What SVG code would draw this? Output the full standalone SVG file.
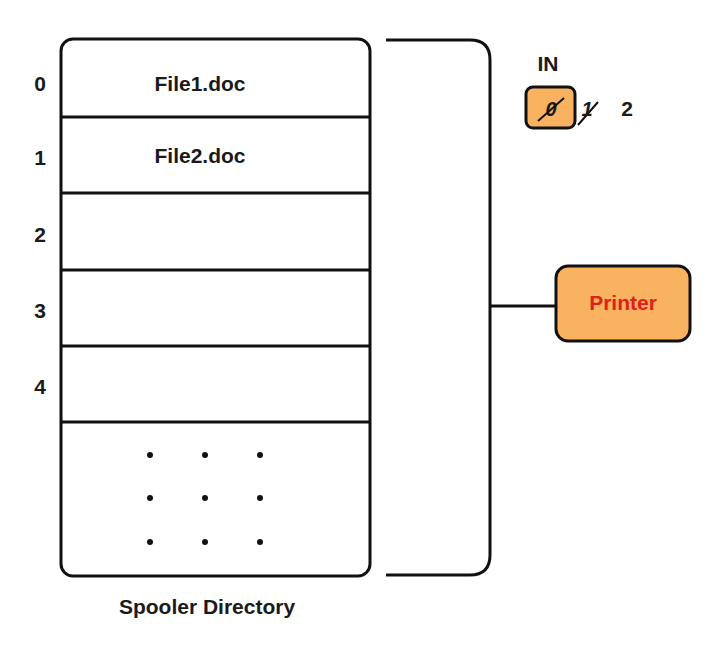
<svg xmlns="http://www.w3.org/2000/svg" width="720" height="653" viewBox="0 0 720 653">
<style>
text{font-family:"Liberation Sans",Arial,sans-serif;font-weight:bold;fill:#1a1a1a}
.l{stroke:#111;stroke-width:3;fill:none}
.o{fill:#f9b25f;stroke:#111;stroke-width:3}
</style>
<rect width="720" height="653" fill="#fff"/>
<g id="spooler">
<rect class="l" x="61" y="39" width="309" height="537" rx="12"/>
<path class="l" d="M61 117H370M61 193H370M61 270H370M61 346H370M61 422H370"/>
<text x="200" y="91" font-size="21" text-anchor="middle">File1.doc</text>
<text x="200" y="163" font-size="21" text-anchor="middle">File2.doc</text>
<g font-size="21"><text x="40" y="91" text-anchor="middle">0</text><text x="40" y="165" text-anchor="middle">1</text><text x="40" y="242" text-anchor="middle">2</text><text x="40" y="318" text-anchor="middle">3</text><text x="40" y="394" text-anchor="middle">4</text></g>
<g fill="#111"><circle cx="150" cy="455" r="3"/><circle cx="205" cy="455" r="3"/><circle cx="260" cy="455" r="3"/><circle cx="150" cy="498" r="3"/><circle cx="205" cy="498" r="3"/><circle cx="260" cy="498" r="3"/><circle cx="150" cy="542" r="3"/><circle cx="205" cy="542" r="3"/><circle cx="260" cy="542" r="3"/></g>
<text x="207" y="614" font-size="21" text-anchor="middle">Spooler Directory</text>
</g>
<g id="connectors">
<path class="l" d="M386 40H470Q490 40 490 60V555Q490 575 470 575H386"/>
<path class="l" d="M490 306H556"/>
</g>
<g id="in">
<text x="548" y="71" font-size="21" text-anchor="middle">IN</text>
<rect class="o" x="526" y="87" width="49" height="41" rx="7"/>
<text x="551" y="116" font-size="20" text-anchor="middle" font-style="italic">0</text>
<path d="M538 121L564 98M578 125L598 102" stroke="#111" stroke-width="2"/>
<text x="587" y="116" font-size="20" text-anchor="middle" font-style="italic">1</text>
<text x="627" y="116" font-size="21" text-anchor="middle">2</text>
</g>
<g id="printer">
<rect class="o" x="556" y="266" width="134" height="75" rx="12"/>
<text x="623" y="310" font-size="21" text-anchor="middle" style="fill:#e0201a">Printer</text>
</g>
</svg>
